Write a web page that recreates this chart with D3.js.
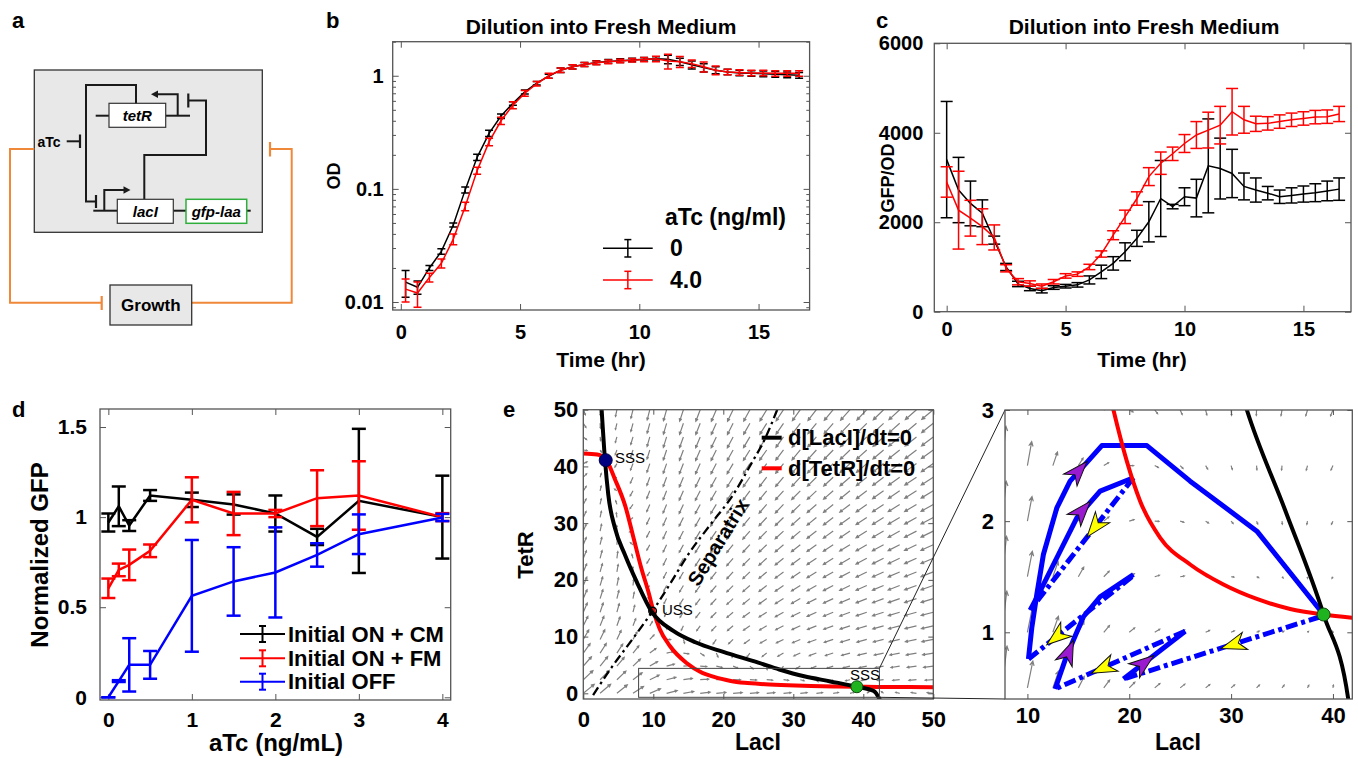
<!DOCTYPE html>
<html>
<head>
<meta charset="utf-8">
<title>Toggle switch figure</title>
<script src="https://cdn.jsdelivr.net/npm/d3@7"></script>
<style>
  body { margin: 0; background: #fff; }
  svg text { font-family: "Liberation Sans", Arial, Helvetica, sans-serif; font-weight: bold; fill: #000; }
</style>
</head>
<body>
<svg id="fig" width="1358" height="758"></svg>
<script>
// ---------- data ----------

// panel b: OD after dilution (hours, OD)
const odTime = [0.2, 0.7, 1.2, 1.7, 2.2, 2.7, 3.2, 3.7, 4.2, 4.7, 5.2, 5.7, 6.2, 6.7, 7.2, 7.7, 8.2, 8.7,
                9.2, 9.7, 10.2, 10.7, 11.2, 11.7, 12.2, 12.7, 13.2, 13.7, 14.2, 14.7, 15.2, 15.7, 16.2, 16.7];
const odNoAtc = [0.015, 0.0135, 0.020, 0.028, 0.048, 0.098, 0.19, 0.31, 0.44, 0.57, 0.72, 0.86, 0.99, 1.12, 1.2, 1.26, 1.31, 1.34,
                 1.36, 1.38, 1.40, 1.41, 1.40, 1.33, 1.25, 1.18, 1.12, 1.08, 1.06, 1.05, 1.04, 1.03, 1.02, 1.01];
const odNoAtcErr = [0.004, 0.0018, 0.001, 0.0015, 0.002, 0.006, 0.012, 0.02, 0.02, 0.02, 0.03, 0.03, 0.04, 0.05, 0.05, 0.05, 0.05, 0.05,
                    0.05, 0.05, 0.05, 0.06, 0.12, 0.1, 0.1, 0.1, 0.08, 0.06, 0.06, 0.06, 0.06, 0.06, 0.06, 0.06];
const odAtc = [0.013, 0.012, 0.0165, 0.022, 0.036, 0.07, 0.145, 0.26, 0.40, 0.55, 0.70, 0.85, 1.0, 1.12, 1.2, 1.26, 1.3, 1.33,
               1.35, 1.37, 1.39, 1.41, 1.35, 1.33, 1.28, 1.2, 1.12, 1.08, 1.07, 1.06, 1.06, 1.05, 1.05, 1.05];
const odAtcErr = [0.003, 0.003, 0.0015, 0.002, 0.004, 0.006, 0.01, 0.02, 0.03, 0.04, 0.04, 0.04, 0.05, 0.05, 0.05, 0.05, 0.05, 0.05,
                  0.05, 0.05, 0.06, 0.08, 0.2, 0.15, 0.1, 0.12, 0.1, 0.06, 0.06, 0.06, 0.06, 0.06, 0.06, 0.06];
const odTicks = [0.01, 0.1, 1];
const odMinorTicks = [0.009, 0.02, 0.03, 0.04, 0.05, 0.06, 0.07, 0.08, 0.09, 0.2, 0.3, 0.4, 0.5, 0.6, 0.7, 0.8, 0.9, 2];
const timeTicks = [0, 5, 10, 15];

// panel c: GFP/OD after dilution
const gfpTime = [0, 0.5, 1, 1.5, 2, 2.5, 3, 3.5, 4, 4.5, 5, 5.5, 6, 6.5, 7, 7.5, 8, 8.5,
                 9, 9.5, 10, 10.5, 11, 11.5, 12, 12.5, 13, 13.5, 14, 14.5, 15, 15.5, 16, 16.5];
const gfpNoAtc = [3400, 2720, 2420, 2200, 1600, 1000, 620, 520, 470, 540, 570, 600, 710, 890, 1080, 1340, 1640, 2010,
                  2530, 2350, 2570, 2540, 3260, 3200, 3090, 2800, 2720, 2650, 2570, 2600, 2630, 2660, 2700, 2740];
const gfpNoAtcErr = [1300, 730, 500, 300, 90, 80, 60, 50, 50, 40, 40, 50, 90, 150, 150, 200, 180, 450,
                     850, 50, 200, 420, 1050, 680, 540, 300, 270, 150, 150, 170, 180, 200, 220, 250];
const gfpAtc = [2900, 2270, 2090, 1900, 1660, 970, 670, 630, 570, 670, 800, 840, 1000, 1290, 1710, 2120, 2530, 3020,
                3320, 3530, 3760, 3950, 4060, 4170, 4470, 4290, 4200, 4210, 4250, 4290, 4320, 4350, 4360, 4420];
const gfpAtcErr = [340, 870, 400, 400, 280, 80, 70, 60, 50, 50, 50, 50, 60, 70, 100, 150, 150, 200,
                   250, 150, 200, 300, 400, 420, 520, 300, 170, 150, 150, 150, 150, 150, 150, 170];
const gfpTicks = [0, 2000, 4000, 6000];

// panel d: normalized GFP vs aTc
const atcDose = [0, 0.125, 0.25, 0.5, 1, 1.5, 2, 2.5, 3, 4];
const onCM = [0.97, 1.06, 0.953, 1.12, 1.096, 1.07, 1.02, 0.89, 1.09, 1.0];
const onCMErr = [0.05, 0.11, 0.03, 0.03, 0.04, 0.056, 0.1, 0.045, 0.40, 0.23];
const onFM = [0.605, 0.707, 0.735, 0.813, 1.096, 1.02, 1.02, 1.105, 1.12, 1.0];
const onFMErr = [0.054, 0.035, 0.085, 0.035, 0.125, 0.12, 0.02, 0.155, 0.19, 0.022];
const offInit = [0.0, 0.09, 0.18, 0.18, 0.563, 0.643, 0.693, 0.79, 0.905, 0.998];
const offInitErr = [0.0, 0.005, 0.148, 0.077, 0.31, 0.19, 0.25, 0.065, 0.11, 0.02];
const doseTicks = [0, 1, 2, 3, 4];
const gfpNormTicks = [0, 0.5, 1, 1.5];

// panel e: nullclines [LacI, TetR]
const lacNull = [[2.62, 50], [3.1, 41.1], [3.57, 35], [4.53, 29.1], [5.96, 24.4], [7.62, 19.7], [9.77, 14.4],
                 [12.86, 11.0], [16, 9.0], [20, 7.3], [25, 5.4], [28, 4.2], [31.55, 3.0], [35.3, 2.1],
                 [39.08, 1.16], [41.5, 0.4], [42.4, -1.2]];
const tetNull = [[0, 42.3], [2, 42.1], [3.3, 41.1], [4.5, 37.8], [6, 33], [7.1, 27.8], [8.3, 22], [9.3, 17.9],
                 [10, 14.6], [10.9, 11.4], [12.4, 8.3], [14.8, 5.3], [17, 3.6], [18.45, 3.0], [19.76, 2.54],
                 [21.07, 2.18], [23.04, 1.85], [25.98, 1.61], [29.25, 1.43], [32.53, 1.30], [35.8, 1.21],
                 [39.08, 1.16], [42, 1.13], [50, 1.08]];
const separatrix = [[1.4, -0.3], [4, 4.5], [7, 9.5], [9.9, 14.5], [12.5, 19.5], [15, 24.5], [18, 29.5],
                    [21.4, 35], [24, 40.5], [26, 45], [27.7, 50]];
const sssHigh = [3.2, 41.1];
const sssLow = [39.08, 1.16];
const uss = [9.9, 14.5];
const insetRect = { lac: [7.9, 42.3], tet: [-0.7, 4.4] };
const phaseTicks = [0, 10, 20, 30, 40, 50];
const zoomLacTicks = [10, 20, 30, 40];
const zoomTetTicks = [1, 2, 3];
// quiver sampling grids
const quiverLac = [0, 2.4, 4.8, 7.1, 9.5, 11.9, 14.3, 16.7, 19, 21.4, 23.8, 26.2, 28.6, 31, 33.3, 35.7, 38.1, 40.5, 42.9, 45.2, 47.6, 50];
const quiverTet = [0, 2.4, 4.8, 7.1, 9.5, 11.9, 14.3, 16.7, 19, 21.4, 23.8, 26.2, 28.6, 31, 33.3, 35.7, 38.1, 40.5, 42.9, 45.2, 47.6, 50];
const zoomQuiverLac = [7.5, 10, 12.5, 15, 17.5, 20, 22.5, 25, 27.5, 30, 32.5, 35, 37.5, 40, 42.5];
const zoomQuiverTet = [0.5, 1, 1.5, 2, 2.5, 3];

// inset trajectories, in flow order
const solidPaths = [
  [[10.1, 0.76], [10.43, 1.04], [10.92, 1.34], [11.57, 1.70], [12.89, 2.12], [14.19, 2.36], [17.31, 2.68],
   [21.73, 2.68], [25.98, 2.36], [32.53, 1.91], [39.08, 1.16]],
  [[10.27, 1.20], [11.25, 1.37], [13.05, 1.70], [14.85, 2.03], [17.14, 2.27], [20.41, 2.39]],
  [[12.72, 0.49], [13.70, 0.75], [14.52, 0.93], [15.50, 1.14], [17.14, 1.32], [20.41, 1.52]],
  [[19.43, 0.58], [25.49, 1.01]]
];
const dashPaths = [
  [[20.41, 2.39], [14.52, 1.70], [10.27, 1.20]],
  [[20.25, 1.50], [10.10, 0.76]],
  [[25.49, 1.01], [12.72, 0.49]],
  [[38.75, 1.14], [19.43, 0.58]]
];
const purpleArrows = [[15.0, 2.45], [15.34, 2.09], [14.03, 0.82], [21.4, 0.72]];
const yellowArrows = [[16.65, 1.95], [12.9, 0.96], [17.47, 0.68], [30.24, 0.89]];

// ---------- helpers ----------
const svg = d3.select('#fig');
const defs = svg.append('defs');

function text(g, x, y, str, size, opt = {}) {
  const t = g.append('text')
    .attr('x', x).attr('y', y)
    .attr('text-anchor', opt.anchor || 'start')
    .style('font-size', size + 'px')
    .style('font-weight', opt.weight || 'bold')
    .text(str);
  if (opt.italic) t.style('font-style', 'italic');
  if (opt.dy) t.attr('dy', opt.dy);
  if (opt.fill) t.style('fill', opt.fill);
  if (opt.rotate) t.attr('transform', `rotate(${opt.rotate},${x},${y})`);
  return t;
}

function clipFor(id, x, y) {
  const [x0, x1] = x.range(), [y0, y1] = y.range();
  defs.append('clipPath').attr('id', id).append('rect')
    .attr('x', x0).attr('y', y1).attr('width', x1 - x0).attr('height', y0 - y1);
  return `url(#${id})`;
}

// matlab style box: ticks inside on all four sides
function boxAxes(g, x, y, o) {
  const [x0, x1] = x.range(), [y0, y1] = y.range();
  const tl = o.tick || 5, fs = o.fontSize || 20;
  const none = () => '';
  const list = [
    [d3.axisBottom(x).tickValues(o.xTicks).tickFormat(o.xFmt || (d => d)).tickPadding(o.xPad), `translate(0,${y0})`, tl],
    [d3.axisTop(x).tickValues(o.xTicks).tickFormat(none), `translate(0,${y1})`, tl],
    [d3.axisLeft(y).tickValues(o.yTicks).tickFormat(o.yFmt || (d => d)).tickPadding(o.yPad), `translate(${x0},0)`, tl],
    [d3.axisRight(y).tickValues(o.yTicks).tickFormat(none), `translate(${x1},0)`, tl]
  ];
  if (o.yMinor) {
    list.push([d3.axisLeft(y).tickValues(o.yMinor).tickFormat(none), `translate(${x0},0)`, tl * 0.55]);
    list.push([d3.axisRight(y).tickValues(o.yMinor).tickFormat(none), `translate(${x1},0)`, tl * 0.55]);
  }
  list.forEach(([ax, tr, len]) => {
    const a = g.append('g').attr('transform', tr)
      .call(ax.tickSizeInner(-len).tickSizeOuter(0));
    a.attr('font-family', null).attr('font-size', null);
    a.select('.domain').remove();
    a.selectAll('line').attr('stroke', '#555').attr('stroke-width', 1);
    a.selectAll('text').style('font-size', fs + 'px').attr('fill', '#000');
  });
  g.append('rect')
    .attr('x', x0).attr('y', y1).attr('width', x1 - x0).attr('height', y0 - y1)
    .attr('fill', 'none').attr('stroke', '#555').attr('stroke-width', 1.3);
}

function errorSeries(g, x, y, xs, ys, es, color, cap, lw) {
  const pts = xs.map((t, i) => ({ t, v: ys[i], e: es[i] }));
  g.append('path').datum(pts)
    .attr('d', d3.line().x(d => x(d.t)).y(d => y(d.v)))
    .attr('fill', 'none').attr('stroke', color).attr('stroke-width', lw);
  const bars = g.append('g').attr('stroke', color).attr('stroke-width', lw)
    .selectAll('g').data(pts).enter().append('g');
  const lo = d => y(Math.max(d.v - d.e, y.domain()[0] * 0.5));
  const hi = d => y(d.v + d.e);
  bars.append('line').attr('x1', d => x(d.t)).attr('x2', d => x(d.t)).attr('y1', lo).attr('y2', hi);
  bars.append('line').attr('x1', d => x(d.t) - cap).attr('x2', d => x(d.t) + cap).attr('y1', lo).attr('y2', lo);
  bars.append('line').attr('x1', d => x(d.t) - cap).attr('x2', d => x(d.t) + cap).attr('y1', hi).attr('y2', hi);
}

function legendErrorLine(g, x0, x1, y, color, half, cap, lw) {
  const xm = (x0 + x1) / 2;
  const l = g.append('g').attr('stroke', color).attr('stroke-width', lw);
  l.append('line').attr('x1', x0).attr('x2', x1).attr('y1', y).attr('y2', y);
  l.append('line').attr('x1', xm).attr('x2', xm).attr('y1', y - half).attr('y2', y + half);
  l.append('line').attr('x1', xm - cap).attr('x2', xm + cap).attr('y1', y - half).attr('y2', y - half);
  l.append('line').attr('x1', xm - cap).attr('x2', xm + cap).attr('y1', y + half).attr('y2', y + half);
}

// ---------- panel a: circuit schematic ----------
(function drawSchematic() {
  const g = svg.append('g');
  const dark = '#1a1a1a', orange = '#f0883a';
  const seg = (pts, color, w) => g.append('path').attr('d', d3.line()(pts))
    .attr('fill', 'none').attr('stroke', color).attr('stroke-width', w);
  const box = (x, y, w, h, fill, stroke, sw) => g.append('rect')
    .attr('x', x).attr('y', y).attr('width', w).attr('height', h)
    .attr('fill', fill).attr('stroke', stroke).attr('stroke-width', sw);

  text(g, 12, 28, 'a', 22);
  box(34.3, 70, 228, 162.3, '#e8e8e8', '#333', 1.3);

  // feedback through growth
  seg([[34.3, 149], [10, 149], [10, 302.7], [101.7, 302.7]], orange, 2);
  seg([[101.7, 296], [101.7, 310]], orange, 2.2);
  seg([[191.7, 302.7], [291.7, 302.7], [291.7, 149], [270, 149]], orange, 2);
  seg([[270, 142], [270, 156.5]], orange, 2.2);
  box(110, 285, 81.7, 40, '#e8e8e8', '#333', 1.3);
  text(g, 150.8, 305, 'Growth', 17, { anchor: 'middle', dy: '0.35em' });

  // tetR gene and promoter
  seg([[95.7, 115.7], [109, 115.7]], dark, 2);
  seg([[165.7, 115.7], [190, 115.7]], dark, 2);
  seg([[177.7, 115.7], [177.7, 94.3], [157, 94.3]], dark, 2);
  g.append('path').attr('d', 'M151,94.3 L158,90.5 L158,98.1 Z').attr('fill', dark);
  box(109, 103.3, 56.7, 24, '#fff', '#333', 1.2);
  text(g, 137.3, 115.5, 'tetR', 15, { anchor: 'middle', dy: '0.35em', italic: true });

  // LacI represses tetR promoter
  seg([[144.3, 199.3], [144.3, 155], [206, 155], [206, 100.5], [188.3, 100.5]], dark, 2);
  seg([[188.3, 93.5], [188.3, 107.5]], dark, 2.2);

  // TetR represses lacI promoter
  seg([[136, 103.3], [136, 85], [86, 85], [86, 201.5], [95, 201.5]], dark, 2);
  seg([[96, 195], [96, 208]], dark, 2.2);

  // aTc inhibits TetR
  text(g, 37.5, 142, 'aTc', 14, { dy: '0.35em' });
  seg([[66.7, 141.3], [79.5, 141.3]], dark, 2);
  seg([[80, 134.5], [80, 148]], dark, 2.2);

  // lacI / gfp-laa operon
  seg([[93.3, 210.7], [117.3, 210.7]], dark, 2);
  seg([[173.3, 210.7], [186, 210.7]], dark, 2);
  seg([[246.7, 210.7], [250.7, 210.7]], dark, 2);
  seg([[104.3, 210.7], [104.3, 190], [124, 190]], dark, 2);
  g.append('path').attr('d', 'M130.5,190 L123.5,186.2 L123.5,193.8 Z').attr('fill', dark);
  box(117.3, 199.3, 56, 24, '#fff', '#333', 1.2);
  text(g, 145.3, 211.3, 'lacI', 15, { anchor: 'middle', dy: '0.35em', italic: true });
  box(186, 199.3, 60.7, 24, '#fff', '#2fae3c', 1.5);
  text(g, 216.3, 211.3, 'gfp-laa', 15, { anchor: 'middle', dy: '0.35em', italic: true });
})();

// ---------- panel b: OD ----------
(function drawOD() {
  const g = svg.append('g');
  const x = d3.scaleLinear().domain([-0.34, 17.14]).range([392.7, 809.6]);
  const y = d3.scaleLog().domain([0.0085, 2]).range([310, 41.7]);
  text(g, 326, 28, 'b', 22);
  text(g, 601, 34, 'Dilution into Fresh Medium', 21, { anchor: 'middle' });
  boxAxes(g, x, y, { xTicks: timeTicks, yTicks: odTicks, yMinor: odMinorTicks, xPad: 15, yPad: 9, fontSize: 20, tick: 6 });
  const plot = g.append('g').attr('clip-path', clipFor('clipB', x, y));
  errorSeries(plot, x, y, odTime, odNoAtc, odNoAtcErr, '#000', 4, 1.5);
  errorSeries(plot, x, y, odTime, odAtc, odAtcErr, '#ff0000', 4, 1.5);
  text(g, 334, 176, 'OD', 18, { anchor: 'middle', dy: '0.35em', rotate: -90 });
  text(g, 601, 360, 'Time (hr)', 21, { anchor: 'middle', dy: '0.35em' });
  // legend
  text(g, 665, 217, 'aTc (ng/ml)', 23, { dy: '0.35em' });
  legendErrorLine(g, 603, 652.7, 248.3, '#000', 8.7, 3.5, 1.5);
  legendErrorLine(g, 603, 652.7, 280, '#ff0000', 8.7, 3.5, 1.5);
  text(g, 670, 248.3, '0', 23, { dy: '0.35em' });
  text(g, 670, 280, '4.0', 23, { dy: '0.35em' });
})();

// ---------- panel c: GFP/OD ----------
(function drawGFP() {
  const g = svg.append('g');
  const x = d3.scaleLinear().domain([-0.52, 17]).range([934.3, 1351]);
  const y = d3.scaleLinear().domain([0, 6000]).range([311.7, 43.3]);
  text(g, 876, 28, 'c', 22);
  text(g, 1144, 34, 'Dilution into Fresh Medium', 21, { anchor: 'middle' });
  boxAxes(g, x, y, { xTicks: timeTicks, yTicks: gfpTicks, xPad: 10, yPad: 11, fontSize: 20, tick: 6 });
  const plot = g.append('g');
  errorSeries(plot, x, y, gfpTime, gfpNoAtc, gfpNoAtcErr, '#000', 6, 1.5);
  errorSeries(plot, x, y, gfpTime, gfpAtc, gfpAtcErr, '#ff0000', 6, 1.5);
  text(g, 888, 178, 'GFP/OD', 18, { anchor: 'middle', dy: '0.35em', rotate: -90 });
  text(g, 1142, 360, 'Time (hr)', 21, { anchor: 'middle', dy: '0.35em' });
})();

// ---------- panel d: dose response ----------
(function drawDose() {
  const g = svg.append('g');
  const x = d3.scaleLinear().domain([-0.1, 4.1]).range([100, 450.7]);
  const y = d3.scaleLinear().domain([-0.015, 1.6]).range([700, 409]);
  text(g, 12, 417, 'd', 22);
  boxAxes(g, x, y, { xTicks: doseTicks, yTicks: gfpNormTicks, xPad: 12, yPad: 13, fontSize: 21, tick: 6 });
  errorSeries(g, x, y, atcDose, onCM, onCMErr, '#000', 7, 2.5);
  errorSeries(g, x, y, atcDose, onFM, onFMErr, '#ff0000', 7, 2.5);
  errorSeries(g, x, y, atcDose, offInit, offInitErr, '#0000ff', 7, 2.5);
  text(g, 40, 555, 'Normalized GFP', 24, { anchor: 'middle', dy: '0.35em', rotate: -90 });
  text(g, 276, 743, 'aTc (ng/mL)', 24, { anchor: 'middle', dy: '0.35em' });
  const leg = [['Initial ON + CM', '#000', 634], ['Initial ON + FM', '#ff0000', 658.3], ['Initial OFF', '#0000ff', 681.7]];
  leg.forEach(([name, color, ly]) => {
    legendErrorLine(g, 240, 285, ly, color, 8, 3.5, 2);
    text(g, 288, ly, name, 22, { dy: '0.35em' });
  });
})();

// ---------- panel e: phase plane ----------
const lacOfTet = d3.scaleLinear()
  .domain(lacNull.map(p => p[1]).reverse()).range(lacNull.map(p => p[0]).reverse()).clamp(true);
const tetOfLac = d3.scaleLinear()
  .domain(tetNull.map(p => p[0])).range(tetNull.map(p => p[1])).clamp(true);
const lacRate = (L, T) => lacOfTet(T) - L;
const tetRate = (L, T) => tetOfLac(L) - T;

function drawQuiver(g, x, y, gridL, gridT, maxLen, width, power) {
  const kx = x(1) - x(0), ky = y(1) - y(0);
  const vecs = [];
  gridL.forEach(L => gridT.forEach(T => {
    const vx = lacRate(L, T) * kx, vy = tetRate(L, T) * ky;
    vecs.push({ L, T, vx, vy, m: Math.hypot(vx, vy) });
  }));
  const mMax = d3.max(vecs, d => d.m);
  const p = d3.path();
  const c = Math.cos(0.45), s = Math.sin(0.45);
  vecs.forEach(d => {
    if (d.m === 0) return;
    const len = maxLen * Math.pow(d.m / mMax, power);
    const ux = d.vx / d.m, uy = d.vy / d.m;
    const x0 = x(d.L), y0 = y(d.T), x1 = x0 + ux * len, y1 = y0 + uy * len;
    const h = Math.max(1.5, Math.min(5, len * 0.25));
    p.moveTo(x0, y0); p.lineTo(x1, y1);
    p.moveTo(x1 - h * (ux * c - uy * s), y1 - h * (uy * c + ux * s));
    p.lineTo(x1, y1);
    p.lineTo(x1 - h * (ux * c + uy * s), y1 - h * (uy * c - ux * s));
  });
  g.append('path').attr('d', p.toString())
    .attr('fill', 'none').attr('stroke', '#808080').attr('stroke-width', width);
}

function nullclines(g, x, y, lw) {
  const line = d3.line().x(d => x(d[0])).y(d => y(d[1])).curve(d3.curveMonotoneX);
  g.append('path').datum(tetNull).attr('d', line)
    .attr('fill', 'none').attr('stroke', '#ff0000').attr('stroke-width', lw);
  g.append('path').datum(lacNull).attr('d', line)
    .attr('fill', 'none').attr('stroke', '#000').attr('stroke-width', lw);
}

const xE = d3.scaleLinear().domain([0, 50]).range([583.3, 933.3]);
const yE = d3.scaleLinear().domain([-1, 50]).range([699, 409.7]);
const xZ = d3.scaleLinear().domain([7.8, 41.9]).range([1005, 1352.3]);
const yZ = d3.scaleLinear().domain([0.4, 3]).range([699, 410]);

(function drawPhase() {
  const g = svg.append('g');
  text(g, 503, 417, 'e', 22);
  const plot = g.append('g').attr('clip-path', clipFor('clipE', xE, yE));
  drawQuiver(plot, xE, yE, quiverLac, quiverTet, 15, 1.2, 0.45);
  plot.append('path').datum(separatrix)
    .attr('d', d3.line().x(d => xE(d[0])).y(d => yE(d[1])).curve(d3.curveMonotoneX))
    .attr('fill', 'none').attr('stroke', '#000').attr('stroke-width', 2.3)
    .attr('stroke-dasharray', '9,4,2.5,4');
  nullclines(plot, xE, yE, 4);
  // zoom rectangle
  g.append('rect')
    .attr('x', xE(insetRect.lac[0])).attr('y', yE(insetRect.tet[1]))
    .attr('width', xE(insetRect.lac[1]) - xE(insetRect.lac[0]))
    .attr('height', yE(insetRect.tet[0]) - yE(insetRect.tet[1]))
    .attr('fill', 'none').attr('stroke', '#444').attr('stroke-width', 1);
  boxAxes(g, xE, yE, { xTicks: phaseTicks, yTicks: phaseTicks, xPad: 12, yPad: 5, fontSize: 22, tick: 5 });

  // steady states
  g.append('circle').attr('cx', xE(sssHigh[0])).attr('cy', yE(sssHigh[1])).attr('r', 6.5)
    .attr('fill', '#000080').attr('stroke', '#000040').attr('stroke-width', 1);
  g.append('circle').attr('cx', xE(uss[0])).attr('cy', yE(uss[1])).attr('r', 3.8)
    .attr('fill', 'none').attr('stroke', '#000').attr('stroke-width', 1.5);
  g.append('circle').attr('cx', xE(sssLow[0])).attr('cy', yE(sssLow[1])).attr('r', 6)
    .attr('fill', '#1fb41f').attr('stroke', '#0a4a0a').attr('stroke-width', 1);
  text(g, 615, 458, 'SSS', 15, { dy: '0.35em', weight: 'normal' });
  text(g, 662, 610, 'USS', 15, { dy: '0.35em', weight: 'normal' });
  text(g, 850, 675, 'SSS', 15, { dy: '0.35em', weight: 'normal' });
  text(g, 718, 542, 'Separatrix', 20, { anchor: 'middle', dy: '0.35em', rotate: -58.6 });

  // legend
  g.append('line').attr('x1', 761.7).attr('x2', 781.7).attr('y1', 437.7).attr('y2', 437.7)
    .attr('stroke', '#000').attr('stroke-width', 4);
  g.append('line').attr('x1', 761.7).attr('x2', 781.7).attr('y1', 468.3).attr('y2', 468.3)
    .attr('stroke', '#ff0000').attr('stroke-width', 4);
  text(g, 788, 437.7, 'd[LacI]/dt=0', 22, { dy: '0.35em' });
  text(g, 788, 468.3, 'd[TetR]/dt=0', 22, { dy: '0.35em' });

  text(g, 525, 555, 'TetR', 22, { anchor: 'middle', dy: '0.35em', rotate: -90 });
  text(g, 758, 742, 'LacI', 23, { anchor: 'middle', dy: '0.35em' });

  // connector lines to the zoomed panel
  g.append('line').attr('x1', xE(insetRect.lac[1])).attr('y1', yE(insetRect.tet[1]))
    .attr('x2', xZ.range()[0]).attr('y2', yZ.range()[1]).attr('stroke', '#222').attr('stroke-width', 1);
  g.append('line').attr('x1', xE(insetRect.lac[1])).attr('y1', yE(insetRect.tet[0]))
    .attr('x2', xZ.range()[0]).attr('y2', yZ.range()[0]).attr('stroke', '#222').attr('stroke-width', 1);
})();

(function drawZoom() {
  const g = svg.append('g');
  const plot = g.append('g').attr('clip-path', clipFor('clipZ', xZ, yZ));
  drawQuiver(plot, xZ, yZ, zoomQuiverLac, zoomQuiverTet, 42, 1.2, 0.75);
  const line = d3.line().x(d => xZ(d[0])).y(d => yZ(d[1]));
  solidPaths.forEach(p => plot.append('path').datum(p).attr('d', line)
    .attr('fill', 'none').attr('stroke', '#0000ff').attr('stroke-width', 5).attr('stroke-linejoin', 'round'));
  dashPaths.forEach(p => plot.append('path').datum(p).attr('d', line)
    .attr('fill', 'none').attr('stroke', '#0000ff').attr('stroke-width', 5)
    .attr('stroke-dasharray', '12,4,4,4'));
  nullclines(plot, xZ, yZ, 4);

  // direction arrows: orient along nearest trajectory segment
  function arrows(points, paths, fill) {
    points.forEach(([L, T]) => {
      const px = xZ(L), py = yZ(T);
      let best = null;
      paths.forEach(path => {
        for (let i = 0; i < path.length - 1; i++) {
          const ax = xZ(path[i][0]), ay = yZ(path[i][1]);
          const bx = xZ(path[i + 1][0]), by = yZ(path[i + 1][1]);
          const dx = bx - ax, dy = by - ay;
          const t = Math.max(0, Math.min(1, ((px - ax) * dx + (py - ay) * dy) / (dx * dx + dy * dy)));
          const dist = Math.hypot(ax + t * dx - px, ay + t * dy - py);
          if (!best || dist < best.dist) best = { dist, ang: Math.atan2(dy, dx) * 180 / Math.PI };
        }
      });
      g.append('path')
        .attr('d', 'M13,0 L-12,-9 L-5,0 L-12,9 Z')
        .attr('transform', `translate(${px},${py}) rotate(${best.ang})`)
        .attr('fill', fill).attr('stroke', '#111').attr('stroke-width', 1);
    });
  }
  arrows(purpleArrows, solidPaths, '#9a1ad0');
  arrows(yellowArrows, dashPaths, '#ffff00');

  g.append('circle').attr('cx', xZ(sssLow[0])).attr('cy', yZ(sssLow[1])).attr('r', 6.5)
    .attr('fill', '#1fb41f').attr('stroke', '#0a4a0a').attr('stroke-width', 1);
  boxAxes(g, xZ, yZ, { xTicks: zoomLacTicks, yTicks: zoomTetTicks, xPad: 8, yPad: 11, fontSize: 22, tick: 5 });
  text(g, 1178, 742, 'LacI', 23, { anchor: 'middle', dy: '0.35em' });
})();
</script>
</body>
</html>
